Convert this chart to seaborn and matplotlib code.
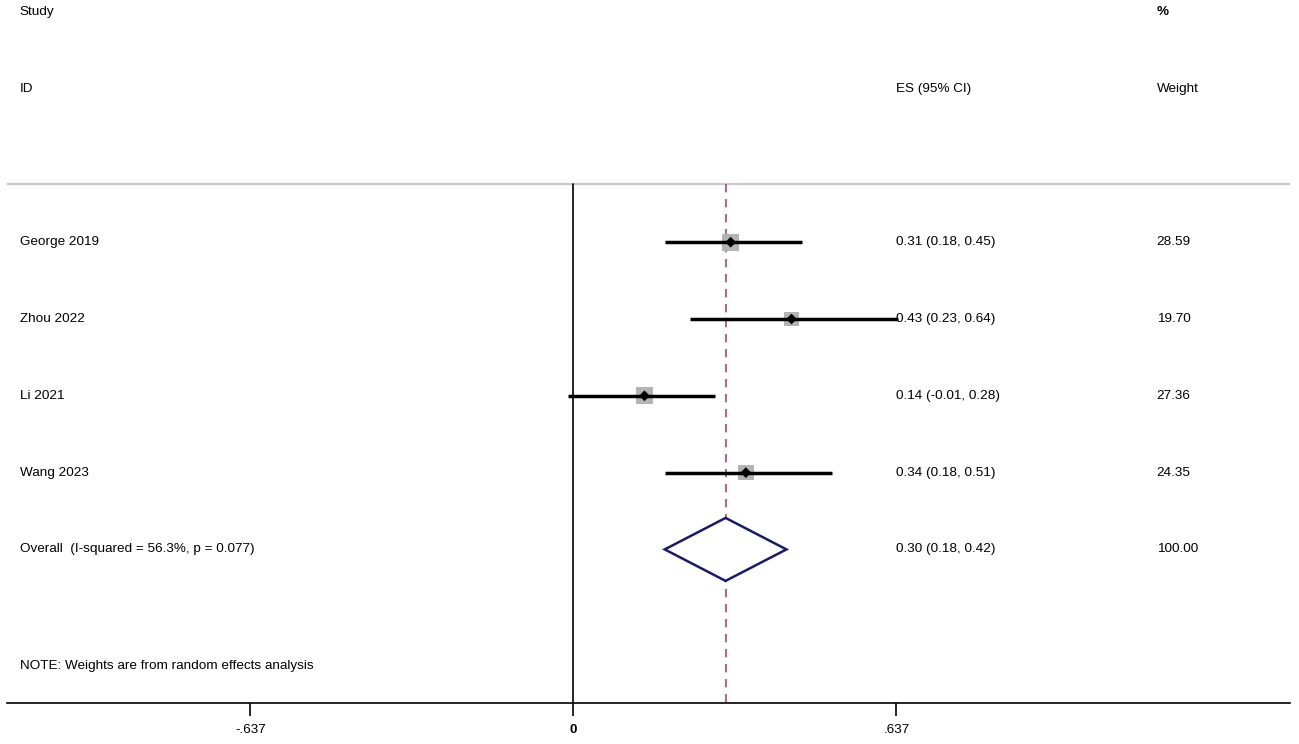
import matplotlib
matplotlib.use("Agg")
import matplotlib.pyplot as plt
import seaborn as sns
import pandas as pd
import numpy as np

studies = ["George 2019", "Zhou 2022", "Li 2021", "Wang 2023"]
es = [0.31, 0.43, 0.14, 0.34]
lo = [0.18, 0.23, -0.01, 0.18]
hi = [0.45, 0.64, 0.28, 0.51]
weights = [28.59, 19.70, 27.36, 24.35]
overall_label = "Overall  (I-squared = 56.3%, p = 0.077)"
overall_es, overall_lo, overall_hi = 0.30, 0.18, 0.42
overall_weight = 100.00
tick_vals = [-0.637, 0, 0.637]
tick_labels = ["-.637", "0", ".637"]
note = "NOTE: Weights are from random effects analysis"

sns.set_style("white")
plt.rcParams['font.family'] = ['Liberation Sans', 'DejaVu Sans']
FS = 9.7
TC = "black"

fig = plt.figure(figsize=(12.99, 7.44), dpi=100)
ax = fig.add_axes([7/1299, 41/744, (1290-7)/1299, 703/744])
ax.set_xlim(-1.117, 1.413)
ax.set_ylim(6, -3.154)

df = pd.DataFrame({"study": studies, "es": es, "lo": lo, "hi": hi, "w": weights})
df["row"] = np.arange(len(df))

# header separator
ax.axhline(-0.76, color="#c8c8c8", lw=1.5)
# null line
ax.plot([0, 0], [-0.76, 6], color="black", lw=1.2)
# overall dashed line
ax.plot([overall_es, overall_es], [-0.76, 6], color="#b5485a", lw=1.2, ls=(0, (5, 4)))

# CIs
ax.hlines(df["row"], df["lo"], df["hi"], color="black", lw=2.5, zorder=3)
# weight squares
sns.scatterplot(data=df, x="es", y="row", ax=ax, marker="s", color="#b4b4b4",
                s=df["w"] / 28.59 * 150, edgecolor="none", legend=False, zorder=2)
# point estimates
sns.scatterplot(data=df, x="es", y="row", ax=ax, marker="D", color="black",
                s=30, edgecolor="none", legend=False, zorder=4)

# overall diamond
yo = len(df)
ax.fill([overall_lo, overall_es, overall_hi, overall_es],
        [yo, yo - 0.41, yo, yo + 0.41], facecolor="white", edgecolor="#1a1a6b",
        lw=1.8, zorder=3)

# text columns
xl, xe, xw = -1.092, 0.637, 1.150
kw = dict(fontsize=FS, va="center", color=TC)
ax.text(xl, -3, "Study", **kw)
ax.text(xl, -2, "ID", **kw)
ax.text(xe, -2, "ES (95% CI)", **kw)
ax.text(xw, -3, "%", fontweight="bold", **kw)
ax.text(xw, -2, "Weight", **kw)
for _, r in df.iterrows():
    ax.text(xl, r["row"], r["study"], **kw)
    ax.text(xe, r["row"], f"{r['es']:.2f} ({r['lo']:.2f}, {r['hi']:.2f})", **kw)
    ax.text(xw, r["row"], f"{r['w']:.2f}", **kw)
ax.text(xl, yo, overall_label, **kw)
ax.text(xe, yo, f"{overall_es:.2f} ({overall_lo:.2f}, {overall_hi:.2f})", **kw)
ax.text(xw, yo, f"{overall_weight:.2f}", **kw)
ax.text(xl, 5.52, note, **kw)

for s in ["top", "left", "right"]:
    ax.spines[s].set_visible(False)
ax.spines["bottom"].set_color("black")
ax.spines["bottom"].set_linewidth(1.2)
ax.set_yticks([])
ax.set_xticks(tick_vals)
ax.set_xticklabels(tick_labels, fontsize=FS, color=TC)
for t in ax.get_xticklabels():
    if t.get_text() == "0":
        t.set_fontweight("bold")
ax.tick_params(axis="x", direction="out", length=9, width=1.2, color="black", pad=6, bottom=True)
ax.set_xlabel("")
ax.set_ylabel("")

fig.savefig("out.png", dpi=100)
